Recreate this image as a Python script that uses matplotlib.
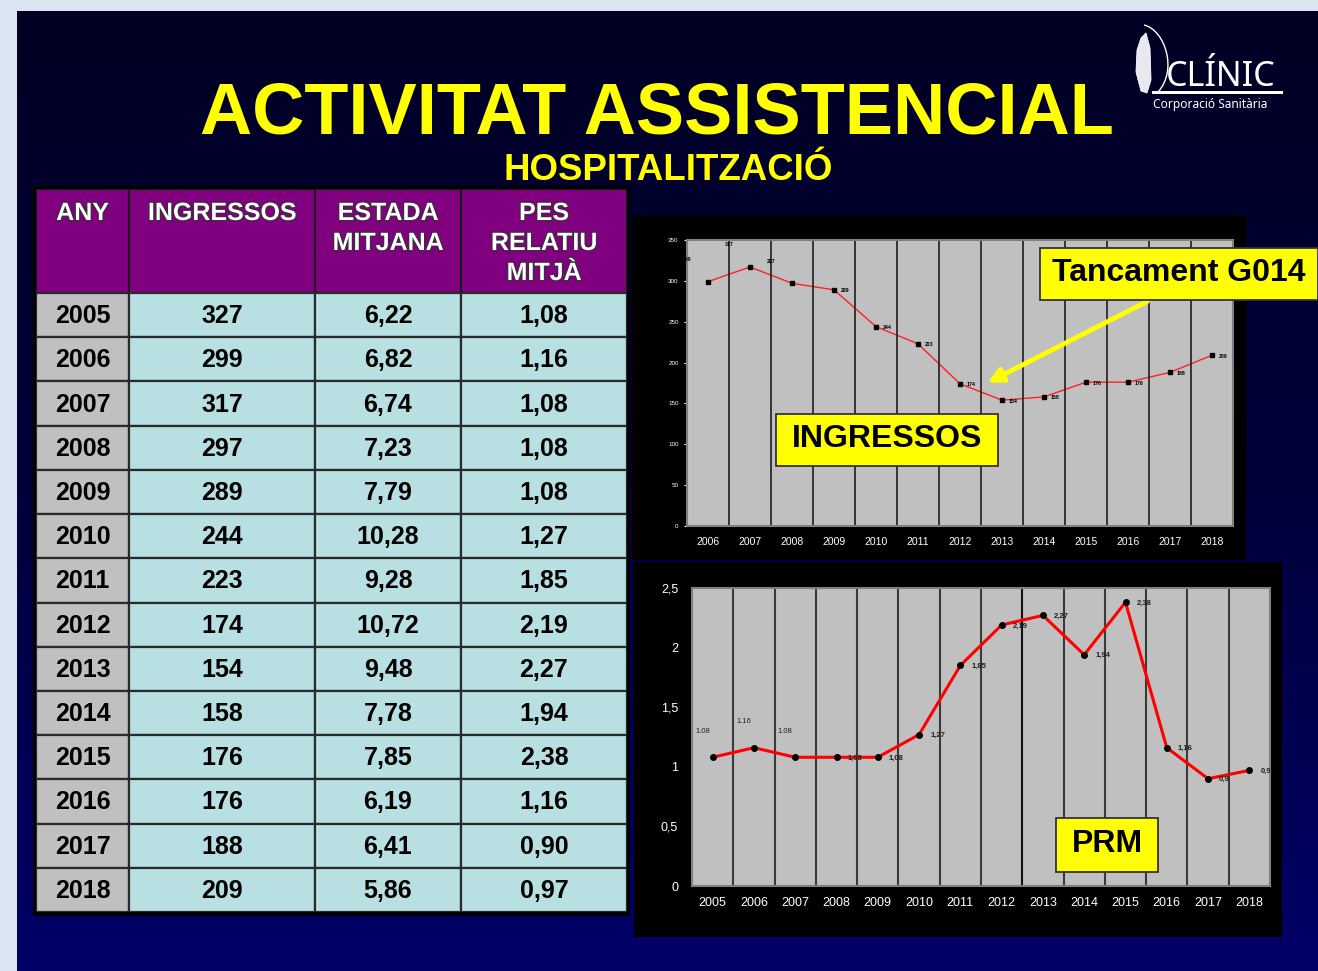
import numpy as np
import matplotlib
matplotlib.use("Agg")
import matplotlib.pyplot as plt
from matplotlib.patches import Rectangle, FancyArrowPatch, PathPatch
from matplotlib.path import Path
from matplotlib.colors import LinearSegmentedColormap
import matplotlib.patheffects as pe

# --- data ---
years = [2005, 2006, 2007, 2008, 2009, 2010, 2011, 2012, 2013, 2014, 2015, 2016, 2017, 2018]
ingressos = [327, 299, 317, 297, 289, 244, 223, 174, 154, 158, 176, 176, 188, 209]
estada = ["6,22", "6,82", "6,74", "7,23", "7,79", "10,28", "9,28", "10,72", "9,48", "7,78", "7,85", "6,19", "6,41", "5,86"]
pes_relatiu = [1.08, 1.16, 1.08, 1.08, 1.08, 1.27, 1.85, 2.19, 2.27, 1.94, 2.38, 1.16, 0.90, 0.97]
headers = [["ANY"], ["INGRESSOS"], ["ESTADA", "MITJANA"], ["PES", "RELATIU", "MITJÀ"]]
col_widths = [93, 186, 146, 166]

W, H = 1318, 971
FONT = "Liberation Sans"
plt.rcParams["font.family"] = [FONT, "DejaVu Sans"]


def fx(x):
    return x / W


def fy(y):
    return 1 - y / H


fig = plt.figure(figsize=(W / 100, H / 100), dpi=100)
fig.patch.set_facecolor("#dce6f2")

# slide background gradient
bg = fig.add_axes([fx(17), 0, 1 - fx(17), fy(11)], zorder=-10)
cmap = LinearSegmentedColormap.from_list("slide", ["#000024", "#00003a", "#000068"])
bg.imshow(np.linspace(0, 1, 256).reshape(-1, 1), cmap=cmap, aspect="auto", extent=[0, 1, 0, 1])
bg.axis("off")

# titles
fig.text(fx(657), fy(133), "ACTIVITAT ASSISTENCIAL", ha="center", va="baseline",
         fontsize=52, fontweight="bold", color="#ffff00")
fig.text(fx(668), fy(180), "HOSPITALITZACIÓ", ha="center", va="baseline",
         fontsize=26.4, fontweight="bold", color="#ffff00")

# logo
fig.text(fx(1166), fy(86), "CLÍNIC", ha="left", va="baseline", fontsize=24.5,
         color="white", family="Noto Sans")
fig.text(fx(1153), fy(108), "Corporació Sanitària", ha="left", va="baseline", fontsize=8.6,
         color="white", family="Noto Sans")
fig.add_artist(Rectangle((fx(1152), fy(94)), fx(1283) - fx(1152), 3 / H,
                         transform=fig.transFigure, color="white", lw=0))
wing = [(1141, 38), (1146, 33), (1150, 48), (1151, 80), (1147, 93), (1141, 91), (1136, 72), (1137, 50), (1141, 38)]
fig.add_artist(PathPatch(Path([(fx(a), fy(b)) for a, b in wing]), transform=fig.transFigure,
                         facecolor="#e8e8f0", edgecolor="white", lw=0.6))
arc = Path([(fx(1144), fy(25)), (fx(1165), fy(30)), (fx(1178), fy(70)), (fx(1158), fy(92))],
           [Path.MOVETO, Path.CURVE4, Path.CURVE4, Path.CURVE4])
fig.add_artist(PathPatch(arc, transform=fig.transFigure, facecolor="none", edgecolor="white", lw=1.0))

# --- table ---
tab = fig.add_axes([fx(36), fy(912), fx(627) - fx(36), (912 - 189) / H])
tab.axis("off")
head_h = 104
row_h = (912 - 189 - head_h) / len(years)
edges = np.concatenate([[0], np.cumsum(col_widths)])
tab.set_xlim(0, edges[-1])
tab.set_ylim(head_h + row_h * len(years), 0)
tab.add_patch(Rectangle((-3, -3), edges[-1] + 6, head_h + row_h * len(years) + 7,
                        facecolor="black", edgecolor="none", clip_on=False, zorder=0))
for j, lines in enumerate(headers):
    tab.add_patch(Rectangle((edges[j], 0), col_widths[j], head_h, facecolor="#800080",
                            edgecolor="#1a1a1a", lw=1.5, zorder=1))
    for k, line in enumerate(lines):
        tab.text(edges[j] + col_widths[j] / 2, 31 + 30 * k, line, ha="center", va="baseline",
                 fontsize=18, fontweight="bold", color="white", zorder=3,
                 path_effects=[pe.withStroke(linewidth=1.5, foreground="#333333")])
for i, yr in enumerate(years):
    y0 = head_h + i * row_h
    vals = [str(yr), str(ingressos[i]), estada[i], f"{pes_relatiu[i]:.2f}".replace(".", ",")]
    for j, v in enumerate(vals):
        tab.add_patch(Rectangle((edges[j], y0), col_widths[j], row_h,
                                facecolor="#c0c0c0" if j == 0 else "#b8e0e3",
                                edgecolor="#2a2a2a", lw=1.6, zorder=1))
        tab.text(edges[j] + col_widths[j] / 2, y0 + row_h / 2 + 1, v, ha="center", va="center",
                 fontsize=18, fontweight="bold", color="black", zorder=3)

# --- black chart panels ---
for x0, y0, x1, y1 in [(632, 215, 1246, 560), (634, 562, 1282, 937)]:
    fig.add_artist(Rectangle((fx(x0), fy(y1)), fx(x1) - fx(x0), (y1 - y0) / H,
                             transform=fig.transFigure, facecolor="black", lw=0, zorder=-5))

# --- top chart: ingressos 2006-2018 ---
ax1 = fig.add_axes([fx(687), fy(526), fx(1233) - fx(687), (526 - 240) / H])
ax1.set_facecolor("#c0c0c0")
x1 = np.arange(len(years) - 1)
ax1.plot(x1, ingressos[1:], color="#ff2020", lw=1.0, marker="s", ms=2.2, mfc="black", mec="black")
for b in np.arange(0.5, len(x1) - 1, 1):
    ax1.axvline(b, color="#2a2a2a", lw=1.3)
ax1.set_xlim(-0.5, len(x1) - 0.5)
ax1.set_ylim(0, 350)
ax1.set_yticks(range(0, 351, 50))
ax1.set_xticks(x1)
ax1.set_xticklabels([str(y) for y in years[1:]])
ax1.tick_params(axis="y", colors="white", labelsize=4.5, length=2, pad=4)
ax1.tick_params(axis="x", colors="white", labelsize=7.5, length=0, pad=8)
for s in ax1.spines.values():
    s.set_color("#808080")
    s.set_linewidth(1.5)
for i, v in enumerate(ingressos[1:]):
    if i < 3:
        off = (-21, 22)
        ha = "center"
    else:
        off = (7, -1)
        ha = "left"
    ax1.annotate(str(v), (x1[i], v), xytext=off, textcoords="offset pixels", ha=ha, va="center",
                 fontsize=3.8, fontweight="bold", color="black", annotation_clip=False)

# --- bottom chart: PRM 2005-2018 ---
ax2 = fig.add_axes([fx(692), fy(886), fx(1270) - fx(692), (886 - 588) / H])
ax2.set_facecolor("#c0c0c0")
x2 = np.arange(len(years))
ax2.plot(x2, pes_relatiu, color="#ff0000", lw=2.2, marker="o", ms=4, mfc="black", mec="black", zorder=3)
for b in np.arange(0.5, len(x2) - 1, 1):
    ax2.axvline(b, color="#111111" if b == 7.5 else "#3a3a3a", lw=1.5)
ax2.set_xlim(-0.5, len(x2) - 0.5)
ax2.set_ylim(0, 2.5)
yt = [0, 0.5, 1, 1.5, 2, 2.5]
ax2.set_yticks(yt)
ax2.set_yticklabels([f"{t:g}".replace(".", ",") for t in yt])
ax2.set_xticks(x2)
ax2.set_xticklabels([str(y) for y in years])
ax2.tick_params(axis="y", colors="white", labelsize=9, length=0, pad=10)
ax2.tick_params(axis="x", colors="white", labelsize=9, length=0, pad=8)
for s in ax2.spines.values():
    s.set_color("#808080")
    s.set_linewidth(1.5)
for i, v in enumerate(pes_relatiu):
    lab = f"{v:g}"
    if i < 3:
        off, ha = (-10, 26), "center"
    else:
        lab = lab.replace(".", ",")
        off, ha = (11, -1), "left"
    ax2.annotate(lab, (x2[i], v), xytext=off, textcoords="offset pixels", ha=ha, va="center",
                 fontsize=5.5, fontweight="bold" if i >= 3 else "normal", color="#202020",
                 annotation_clip=False, clip_on=True, zorder=4)

# --- callouts ---
fig.add_artist(FancyArrowPatch((fx(1150), fy(300)), (fx(985), fy(384)), transform=fig.transFigure,
                               arrowstyle="-|>", mutation_scale=22, lw=3.5, color="#ffff00", zorder=4))
for (x0, y0, x1_, y1_), txt in [((1040, 248, 1318, 300), "Tancament G014"),
                                ((776, 414, 998, 466), "INGRESSOS"),
                                ((1056, 818, 1158, 872), "PRM")]:
    fig.add_artist(Rectangle((fx(x0), fy(y1_)), fx(x1_) - fx(x0), (y1_ - y0) / H,
                             transform=fig.transFigure, facecolor="#ffff00", edgecolor="#333333",
                             lw=1.3, zorder=5))
    fig.text(fx((x0 + x1_) / 2), fy((y0 + y1_) / 2 - 1), txt, ha="center", va="center",
             fontsize=23, fontweight="bold", color="black", zorder=6)

fig.savefig("out.png", dpi=100, facecolor=fig.get_facecolor())
